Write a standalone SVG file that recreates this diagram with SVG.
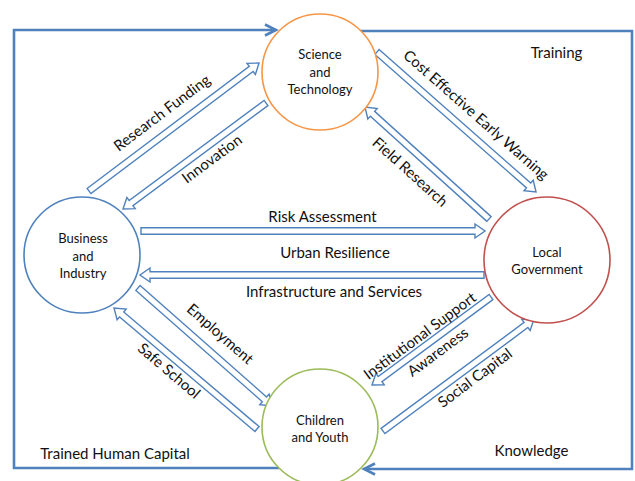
<svg xmlns="http://www.w3.org/2000/svg" width="635" height="481" viewBox="0 0 635 481">
  <defs>
    <style>
      .node { fill: #FFFFFF; stroke-width: 1.6; }
      .ntext { font-family: Lato, "Open Sans", sans-serif; font-size: 13px; fill: #111; text-anchor: middle; }
      .label { font-family: Lato, "Open Sans", sans-serif; font-size: 15px; fill: #111; text-anchor: middle; }
      .block { fill: #FFFFFF; stroke: #4F81BD; stroke-width: 1.4; stroke-linejoin: miter; }
      .frame { fill: none; stroke: #4F81BD; stroke-width: 2.6; stroke-linejoin: miter; }
    </style>
    <marker id="open" markerUnits="userSpaceOnUse" markerWidth="16" markerHeight="16" refX="0" refY="0" viewBox="-13 -8 16 16" orient="auto" overflow="visible">
      <path d="M -11 -5.5 L 0 0 L -11 5.5" fill="none" stroke="#4F81BD" stroke-width="2.6"/>
    </marker>
  </defs>

  <rect width="635" height="481" fill="#FFFFFF"/>

  <!-- connectors -->
  <g id="connectors">
    <!-- outer loops -->
    <path class="frame" d="M 279 468 L 14 468 L 14 30 L 276 30" marker-end="url(#open)"/>
    <path class="frame" d="M 360 31 L 632 31 L 632 469 L 364 469" marker-end="url(#open)"/>

    <!-- block arrows: drawn along +x from tail to tip -->
    <g transform="translate(89,191) rotate(-36.97)">
      <polygon class="block" points="0,-3.2 203,-3.2 203,-7 212.8,0 203,7 203,3.2 0,3.2"/>
    </g>
    <g transform="translate(266,103) rotate(143.45)">
      <polygon class="block" points="0,-3.2 168,-3.2 168,-7 178,0 168,7 168,3.2 0,3.2"/>
    </g>
    <g transform="translate(377,52) rotate(41.36)">
      <polygon class="block" points="0,-3.2 202,-3.2 202,-7 211.9,0 202,7 202,3.2 0,3.2"/>
    </g>
    <g transform="translate(489,219) rotate(-137.9)">
      <polygon class="block" points="0,-3.2 157,-3.2 157,-7 167.1,0 157,7 157,3.2 0,3.2"/>
    </g>
    <g transform="translate(141,231)">
      <polygon class="block" points="0,-3.2 334,-3.2 334,-7 344,0 334,7 334,3.2 0,3.2"/>
    </g>
    <g transform="translate(484,275) rotate(180)">
      <polygon class="block" points="0,-3.2 334,-3.2 334,-7 344,0 334,7 334,3.2 0,3.2"/>
    </g>
    <g transform="translate(138,288) rotate(41.37)">
      <polygon class="block" points="0,-3.2 168.5,-3.2 168.5,-7 178.5,0 168.5,7 168.5,3.2 0,3.2"/>
    </g>
    <g transform="translate(257,429) rotate(-139.76)">
      <polygon class="block" points="0,-3.2 177.3,-3.2 177.3,-7 187.3,0 177.3,7 177.3,3.2 0,3.2"/>
    </g>
    <g transform="translate(491,297) rotate(143.5)">
      <polygon class="block" points="0,-3.2 138,-3.2 138,-7 148,0 138,7 138,3.2 0,3.2"/>
    </g>
    <g transform="translate(383,431) rotate(-36.56)">
      <polygon class="block" points="0,-3.2 178,-3.2 178,-7 188,0 178,7 178,3.2 0,3.2"/>
    </g>

    <!-- connector labels -->
    <text class="label" transform="translate(162,113) rotate(-37)" y="5">Research Funding</text>
    <text class="label" transform="translate(212,159) rotate(-36.5)" y="5">Innovation</text>
    <text class="label" transform="translate(476,115) rotate(41.4)" y="5">Cost Effective Early Warning</text>
    <text class="label" transform="translate(410,172) rotate(42)" y="5">Field Research</text>
    <text class="label" x="322.5" y="222">Risk Assessment</text>
    <text class="label" x="335" y="258">Urban Resilience</text>
    <text class="label" x="334" y="297">Infrastructure and Services</text>
    <text class="label" transform="translate(220,334) rotate(41.4)" y="5">Employment</text>
    <text class="label" transform="translate(169,371) rotate(40.5)" y="5">Safe School</text>
    <text class="label" transform="translate(420,336) rotate(-36.5)" y="5">Institutional Support</text>
    <text class="label" transform="translate(438,352) rotate(-36.5)" y="5">Awareness</text>
    <text class="label" transform="translate(475,378) rotate(-36.6)" y="5">Social Capital</text>
    <text class="label" x="556.5" y="58">Training</text>
    <text class="label" x="115" y="459">Trained Human Capital</text>
    <text class="label" x="531.5" y="456">Knowledge</text>
  </g>

  <!-- nodes -->
  <g id="science">
    <circle class="node" cx="320" cy="72" r="58" stroke="#F79646"/>
    <text class="ntext" x="320" y="59">Science</text>
    <text class="ntext" x="320" y="77">and</text>
    <text class="ntext" x="320" y="94">Technology</text>
  </g>
  <g id="business">
    <circle class="node" cx="82" cy="255" r="58" stroke="#4F81BD"/>
    <text class="ntext" x="83" y="243">Business</text>
    <text class="ntext" x="83" y="261">and</text>
    <text class="ntext" x="83" y="278">Industry</text>
  </g>
  <g id="government">
    <circle class="node" cx="547" cy="260" r="63" stroke="#C0504D"/>
    <text class="ntext" x="547" y="257">Local</text>
    <text class="ntext" x="547" y="274">Government</text>
  </g>
  <g id="children">
    <circle class="node" cx="320" cy="427" r="58" stroke="#9BBB59"/>
    <text class="ntext" x="320" y="425">Children</text>
    <text class="ntext" x="320" y="442">and Youth</text>
  </g>
</svg>
